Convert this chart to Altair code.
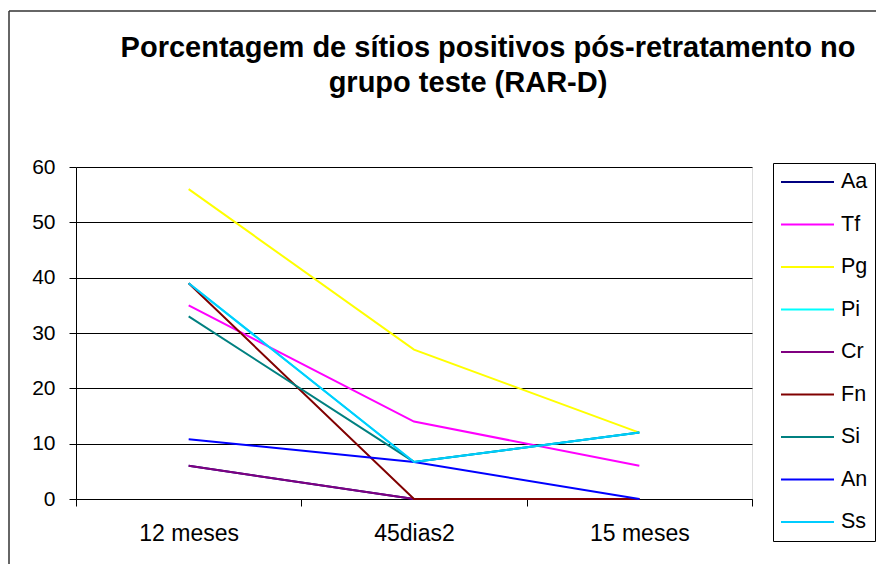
import altair as alt
import pandas as pd

title_lines = ["Porcentagem de sítios positivos pós-retratamento no",
               "grupo teste (RAR-D)"]
categories = ["12 meses", "45dias2", "15 meses"]
series = ["Aa", "Tf", "Pg", "Pi", "Cr", "Fn", "Si", "An", "Ss"]
colors = ["#000080", "#FF00FF", "#FFFF00", "#00FFFF", "#800080",
          "#800000", "#008080", "#0000FF", "#00CCFF"]

Aa = [6, 0, 0]
Tf = [35, 14, 6]
Pg = [56, 27, 12]
Pi = [39, 6.7, 12]
Cr = [6, 0, 0]
Fn = [39, 0, 0]
Si = [33, 6.7, 12]
An = [10.8, 6.7, 0]
Ss = [39, 6.7, 12]
y_ticks = [0, 10, 20, 30, 40, 50, 60]

values = {"Aa": Aa, "Tf": Tf, "Pg": Pg, "Pi": Pi, "Cr": Cr,
          "Fn": Fn, "Si": Si, "An": An, "Ss": Ss}

rows = []
for s in series:
    for i, c in enumerate(categories):
        rows.append({"serie": s, "tempo": c, "pos": i, "valor": values[s][i]})
df = pd.DataFrame(rows)

FONT = "Liberation Sans"
one = pd.DataFrame({"k": [0]})

border_left = alt.Chart(one).mark_rule(color="#333333", strokeWidth=1.5).encode(
    x=alt.value(-67), y=alt.value(-156), y2=alt.value(600))
border_top = alt.Chart(one).mark_rule(color="#333333", strokeWidth=1.5).encode(
    x=alt.value(-67), x2=alt.value(800), y=alt.value(-156))

title1 = alt.Chart(pd.DataFrame({"t": [title_lines[0]]})).mark_text(
    font=FONT, fontSize=29, fontWeight="bold", color="black",
    align="center", baseline="alphabetic"
).encode(text="t:N", x=alt.value(412), y=alt.value(-110))

title2 = alt.Chart(pd.DataFrame({"t": [title_lines[1]]})).mark_text(
    font=FONT, fontSize=29, fontWeight="bold", color="black",
    align="center", baseline="alphabetic"
).encode(text="t:N", x=alt.value(392), y=alt.value(-75))

lines = alt.Chart(df).mark_line(strokeWidth=2).encode(
    x=alt.X("tempo:N", sort=categories, bandPosition=0.5,
            scale=alt.Scale(type="band", paddingInner=0, paddingOuter=0),
            axis=alt.Axis(title=None, tickBand="extent", labelAngle=0,
                          labelFontSize=23, labelFont=FONT, labelColor="black",
                          labelPadding=16, tickSize=7, tickColor="black",
                          domainColor="black", grid=False)),
    y=alt.Y("valor:Q", scale=alt.Scale(domain=[0, 60]),
            axis=alt.Axis(title=None, values=y_ticks, labelFontSize=21,
                          labelFont=FONT, labelColor="black", labelPadding=14,
                          tickSize=7, tickColor="black", domainColor="black",
                          grid=True, gridColor="black", gridWidth=1)),
    color=alt.Color("serie:N", sort=series,
                    scale=alt.Scale(domain=series, range=colors),
                    legend=alt.Legend(title=None, orient="none", legendX=697,
                                      legendY=-4, strokeColor="black",
                                      padding=7, symbolType="stroke",
                                      symbolSize=2809, symbolStrokeWidth=2,
                                      labelFontSize=21.5, labelFont=FONT,
                                      labelColor="black", clipHeight=24,
                                      rowPadding=18.5, labelOffset=6)),
    order=alt.Order("pos:Q"),
)

chart = alt.layer(border_left, border_top, title1, title2, lines).properties(
    width=676, height=332,
    padding={"left": 68, "top": 159, "right": 125, "bottom": 65},
    autosize=alt.AutoSizeParams(type="none"),
).configure_view(
    fill="#C0C0C0", stroke="#808080"
).configure(background="white")

chart.save("out.html", embed_options={"renderer": "svg", "actions": False})
